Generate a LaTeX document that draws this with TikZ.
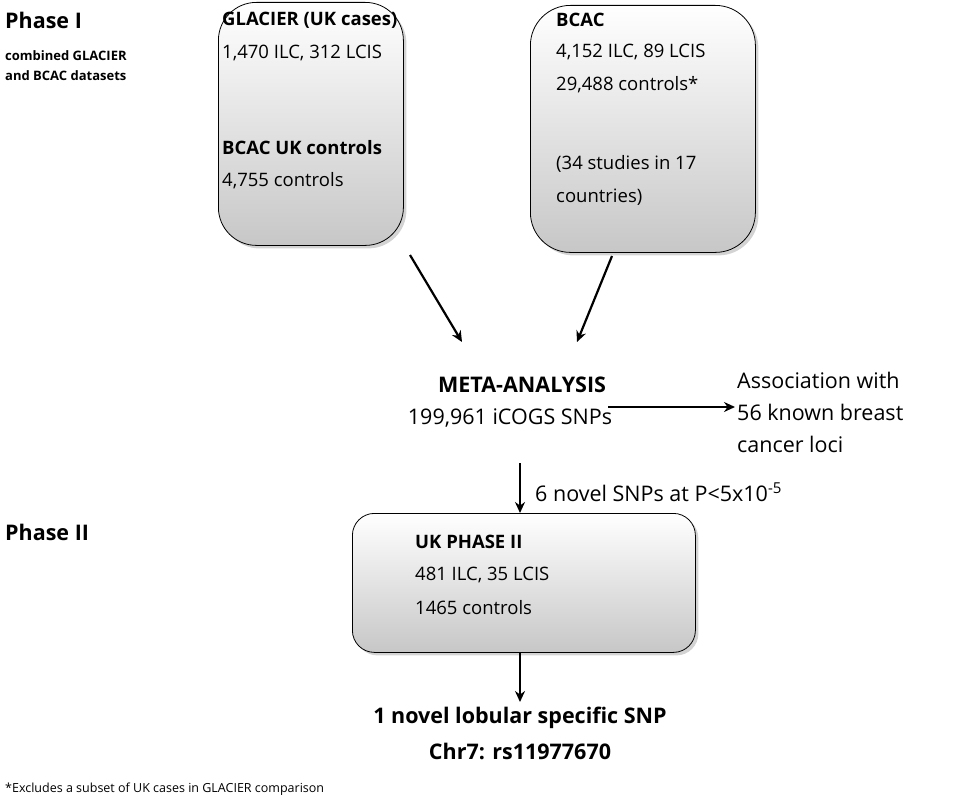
\documentclass[tikz,border=0pt]{standalone}
\usepackage{fontspec}
\setmainfont{Open Sans}
\usetikzlibrary{shadows,arrows.meta}
\begin{document}
\begin{tikzpicture}[x=1pt,y=-1pt,
  box/.style={draw=black,line width=0.8pt,rounded corners=32pt,top color=white,bottom color=black!22,drop shadow={shadow xshift=3pt,shadow yshift=-3pt,opacity=0.35}},
  t/.style={anchor=west,inner sep=0pt,font=\fontsize{18.5}{22}\selectfont},
  tb/.style={t,font=\fontsize{18.5}{22}\selectfont\bfseries},
  o/.style={anchor=west,inner sep=0pt,font=\fontsize{21.5}{24}\selectfont},
  ob/.style={o,font=\fontsize{21.5}{24}\selectfont\bfseries},
  c/.style={anchor=center,inner sep=0pt,font=\fontsize{21.5}{24}\selectfont},
  cb/.style={c,font=\fontsize{21.5}{24}\selectfont\bfseries},
  arr/.style={line width=2.2pt,-{Stealth[length=11pt,width=10pt]}}]
\useasboundingbox (0,0) rectangle (960,800);
\node[box,minimum width=185pt,minimum height=243pt,anchor=north west,rounded corners=38pt] (b1) at (218,2) {};
\node[box,minimum width=225pt,minimum height=247pt,anchor=north west,rounded corners=40pt] (b2) at (530,5) {};
\node[box,minimum width=343pt,minimum height=139pt,anchor=north west,rounded corners=22pt] (b3) at (352,513) {};
\node[ob] (p1) at (5,20) {Phase I};
\node[anchor=west,inner sep=0pt,font=\fontsize{13}{15}\selectfont\bfseries] (p1a) at (5,56) {combined GLACIER};
\node[anchor=west,inner sep=0pt,font=\fontsize{13}{15}\selectfont\bfseries] (p1b) at (5,76) {and BCAC datasets};
\node[tb] (g1) at (222,20) {GLACIER (UK cases)};
\node[t] (g2) at (222,53) {1,470 ILC, 312 LCIS};
\node[tb] (g3) at (222,148) {BCAC UK controls};
\node[t] (g4) at (222,181) {4,755 controls};
\node[tb] (h1) at (556,20) {BCAC};
\node[t] (h2) at (556,52) {4,152 ILC, 89 LCIS};
\node[t] (h3) at (556,85) {29,488 controls*};
\node[t] (h4) at (556,164) {(34 studies in 17};
\node[t] (h5) at (556,197) {countries)};
\node[cb] (m1) at (522,385) {META-ANALYSIS};
\node[c] (m2) at (510,418) {199,961 iCOGS SNPs};
\node[o] (a1) at (737,380) {Association with};
\node[o] (a2) at (737,412) {56 known breast};
\node[o] (a3) at (737,444) {cancer loci};
\coordinate (s1) at (410,255); \coordinate (e1) at (462,342);
\coordinate (s2) at (612,256); \coordinate (e2) at (577,342);
\draw[arr] (s1) -- (e1);
\draw[arr] (s2) -- (e2);
\coordinate (s3) at (608,407); \coordinate (e3) at (735,407);
\draw[arr] (s3) -- (e3);
\coordinate (s4) at (520,463);
\draw[arr] (s4) -- (b3.north -| s4);
\node[o] (lab) at (535,492) {6 novel SNPs at P<5x10\textsuperscript{-5}};
\node[ob] (p2) at (5,532) {Phase II};
\node[tb] (u1) at (415,542) {UK PHASE II};
\node[t] (u2) at (415,575) {481 ILC, 35 LCIS};
\node[t] (u3) at (415,608) {1465 controls};
\node[cb] (r1) at (520,718) {1 novel lobular specific SNP};
\node[cb] (r2) at (520,751) {Chr7: rs11977670};
\draw[arr] (b3.south -| s4) -- (520,702);
\node[anchor=west,inner sep=0pt,font=\fontsize{12.5}{14}\selectfont] (fn) at (5,789) {*Excludes a subset of UK cases in GLACIER comparison};
\end{tikzpicture}
\end{document}
